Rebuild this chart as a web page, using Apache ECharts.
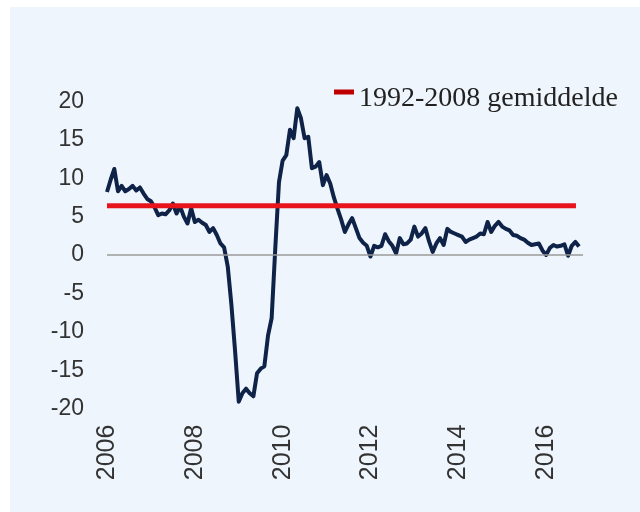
<!DOCTYPE html>
<html>
<head>
<meta charset="utf-8">
<script src="https://cdn.jsdelivr.net/npm/echarts@6/dist/echarts.min.js"></script>
<style>
  html, body { margin: 0; padding: 0; background: #ffffff; }
  #chart { position: absolute; left: 10px; top: 7px; width: 630px; height: 505px; background: #EEF5FD; }
</style>
</head>
<body>
<div id="chart"></div>
<script>
// Monthly values starting January 2006
const startYear = 2006;
const values = [
  8.2, 9.8, 11.2, 8.3, 9.0, 8.3, 8.6, 9.0, 8.4, 8.8, 8.0, 7.3,      // 2006
  7.0, 6.2, 5.2, 5.4, 5.3, 5.8, 6.7, 5.4, 6.3, 5.0, 4.1, 6.1,       // 2007
  4.3, 4.6, 4.2, 3.9, 3.0, 3.5, 2.6, 1.5, 1.0, -1.5, -6.5, -12.5,   // 2008
  -19.1, -18.0, -17.4, -18.0, -18.4, -15.4, -14.8, -14.5, -10.5, -8.2, 1.0, 9.5, // 2009
  12.3, 13.0, 16.3, 15.2, 19.1, 17.8, 15.2, 15.4, 11.3, 11.5, 12.1, 9.1, // 2010
  10.4, 9.3, 7.5, 6.0, 4.6, 3.0, 4.0, 4.8, 3.5, 2.2, 1.6, 1.2,      // 2011
  -0.2, 1.2, 1.0, 1.2, 2.7, 1.8, 1.2, 0.2, 2.2, 1.4, 1.5, 2.0,      // 2012
  3.7, 2.4, 2.8, 3.5, 1.8, 0.4, 1.5, 2.2, 1.3, 3.4, 3.0, 2.8,       // 2013
  2.6, 2.4, 1.7, 2.0, 2.2, 2.4, 2.8, 2.7, 4.3, 3.0, 3.8, 4.3,       // 2014
  3.7, 3.4, 3.2, 2.6, 2.5, 2.2, 2.0, 1.6, 1.3, 1.4, 1.5, 0.6,       // 2015
  0.0, 0.9, 1.3, 1.1, 1.2, 1.4, -0.1, 1.2, 1.7, 1.1                 // 2016
];
const avgLabel = '1992-2008 gemiddelde';
const avgValue = 6.4;
const avgRange = [2006, 2016.68];
const xTicks = [2006, 2008, 2010, 2012, 2014, 2016];
const yTicks = [-20, -15, -10, -5, 0, 5, 10, 15, 20];

const seriesData = values.map((v, i) => [startYear + i / 12, v]);
const avgData = avgRange.map(x => [x, avgValue]);

const chart = echarts.init(document.getElementById('chart'), null, { renderer: 'canvas' });
chart.setOption({
  backgroundColor: 'transparent',
  animation: false,
  grid: { left: 97, right: 57, top: 94.4, bottom: 103.4, containLabel: false },
  legend: {
    left: 319, top: 73,
    data: [{ name: avgLabel, itemStyle: { color: '#C00000' } }],
    // short bar drawn in the upper part of the icon box (lower sub-path is zero-area)
    icon: 'path://M0,0 L20,0 L20,5 L0,5 Z M0,19 L0.001,19 Z',
    itemWidth: 20, itemHeight: 19, itemGap: 10,
    textStyle: { fontFamily: 'Liberation Serif, Times New Roman, serif', fontSize: 28, color: '#222' }
  },
  xAxis: {
    type: 'value', min: 2006, max: 2016.84, interval: 2,
    axisLine: { show: false }, axisTick: { show: false }, splitLine: { show: false },
    axisLabel: {
      rotate: 90, margin: 16, fontSize: 25, color: '#333',
      fontFamily: 'Liberation Sans, Arial, sans-serif',
      formatter: v => xTicks.includes(Math.round(v * 1000) / 1000) ? String(Math.round(v)) : ''
    }
  },
  yAxis: {
    type: 'value', min: -20, max: 20, interval: 5,
    axisLine: { show: false }, axisTick: { show: false }, splitLine: { show: false },
    axisLabel: {
      margin: 23, fontSize: 23, color: '#333',
      fontFamily: 'Liberation Sans, Arial, sans-serif',
      formatter: v => yTicks.includes(v) ? String(v) : ''
    }
  },
  series: [
    {
      name: 'data', type: 'line', data: seriesData, showSymbol: false, z: 3,
      lineStyle: { color: '#0E2347', width: 4, join: 'round' },
      markLine: {
        silent: true, symbol: 'none', label: { show: false },
        lineStyle: { color: '#9a9a9a', width: 1.5, type: 'solid' },
        data: [{ yAxis: 0 }]
      }
    },
    {
      name: avgLabel, type: 'line', data: avgData, showSymbol: false, z: 4,
      lineStyle: { color: '#E8141C', width: 5 }
    }
  ]
});
</script>
</body>
</html>
